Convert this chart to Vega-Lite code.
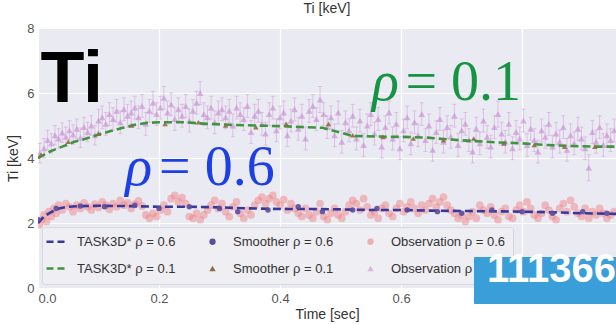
{
  "$schema": "https://vega.github.io/schema/vega-lite/v6.json",
  "width": 578,
  "height": 260,
  "autosize": "none",
  "padding": {"left": 38, "top": 28, "right": 0, "bottom": 37},
  "background": "white",
  "title": {"text": "Ti [keV]", "fontSize": 14, "fontWeight": "normal", "color": "#333", "font": "Liberation Sans", "offset": 6},
  "config": {
    "view": {"fill": "#EAEAF2", "stroke": null},
    "axis": {"domain": false, "ticks": false, "gridColor": "white", "gridWidth": 1.2, "labelColor": "#555", "labelFontSize": 13, "labelFont": "Liberation Sans", "titleColor": "#333", "titleFontSize": 14, "titleFontWeight": "normal", "titleFont": "Liberation Sans", "labelOverlap": false}
  },
  "datasets": {
    "task": [
      {"s":"T1","t":0,"v":4.0},{"s":"T1","t":0.02,"v":4.2},{"s":"T1","t":0.04,"v":4.35},{"s":"T1","t":0.06,"v":4.5},{"s":"T1","t":0.08,"v":4.6},{"s":"T1","t":0.1,"v":4.72},{"s":"T1","t":0.12,"v":4.83},{"s":"T1","t":0.14,"v":4.93},{"s":"T1","t":0.16,"v":5.02},{"s":"T1","t":0.18,"v":5.08},{"s":"T1","t":0.2,"v":5.1},{"s":"T1","t":0.24,"v":5.1},{"s":"T1","t":0.28,"v":5.05},{"s":"T1","t":0.32,"v":5.02},{"s":"T1","t":0.36,"v":5.0},{"s":"T1","t":0.4,"v":4.98},{"s":"T1","t":0.44,"v":4.95},{"s":"T1","t":0.47,"v":4.93},{"s":"T1","t":0.5,"v":4.78},{"s":"T1","t":0.52,"v":4.68},{"s":"T1","t":0.56,"v":4.66},{"s":"T1","t":0.6,"v":4.65},{"s":"T1","t":0.64,"v":4.63},{"s":"T1","t":0.68,"v":4.57},{"s":"T1","t":0.72,"v":4.52},{"s":"T1","t":0.76,"v":4.48},{"s":"T1","t":0.8,"v":4.45},{"s":"T1","t":0.84,"v":4.4},{"s":"T1","t":0.88,"v":4.37},{"s":"T1","t":0.92,"v":4.35},{"s":"T1","t":0.96,"v":4.35},
      {"s":"T6","t":0,"v":2.0},{"s":"T6","t":0.01,"v":2.2},{"s":"T6","t":0.02,"v":2.32},{"s":"T6","t":0.035,"v":2.45},{"s":"T6","t":0.05,"v":2.5},{"s":"T6","t":0.07,"v":2.52},{"s":"T6","t":0.1,"v":2.53},{"s":"T6","t":0.15,"v":2.52},{"s":"T6","t":0.2,"v":2.5},{"s":"T6","t":0.25,"v":2.5},{"s":"T6","t":0.3,"v":2.48},{"s":"T6","t":0.35,"v":2.45},{"s":"T6","t":0.4,"v":2.43},{"s":"T6","t":0.45,"v":2.43},{"s":"T6","t":0.5,"v":2.42},{"s":"T6","t":0.55,"v":2.4},{"s":"T6","t":0.6,"v":2.4},{"s":"T6","t":0.65,"v":2.38},{"s":"T6","t":0.7,"v":2.37},{"s":"T6","t":0.75,"v":2.36},{"s":"T6","t":0.8,"v":2.35},{"s":"T6","t":0.85,"v":2.33},{"s":"T6","t":0.9,"v":2.3},{"s":"T6","t":0.96,"v":2.28}
    ],
    "smooth": [
      {"s":"S6","t":0.0,"v":2.1},{"s":"S6","t":0.03,"v":2.45},{"s":"S6","t":0.07,"v":2.52},{"s":"S6","t":0.11,"v":2.5},{"s":"S6","t":0.16,"v":2.55},{"s":"S6","t":0.2,"v":2.45},{"s":"S6","t":0.25,"v":2.5},{"s":"S6","t":0.3,"v":2.45},{"s":"S6","t":0.33,"v":2.35},{"s":"S6","t":0.38,"v":2.4},{"s":"S6","t":0.43,"v":2.5},{"s":"S6","t":0.47,"v":2.35},{"s":"S6","t":0.52,"v":2.4},{"s":"S6","t":0.56,"v":2.45},{"s":"S6","t":0.61,"v":2.4},{"s":"S6","t":0.66,"v":2.35},{"s":"S6","t":0.7,"v":2.3},{"s":"S6","t":0.75,"v":2.4},{"s":"S6","t":0.8,"v":2.35},{"s":"S6","t":0.85,"v":2.3},{"s":"S6","t":0.9,"v":2.35},{"s":"S6","t":0.94,"v":2.3},
      {"s":"S1","t":0.005,"v":4.1},{"s":"S1","t":0.05,"v":4.5},{"s":"S1","t":0.1,"v":4.75},{"s":"S1","t":0.155,"v":5.0},{"s":"S1","t":0.21,"v":5.05},{"s":"S1","t":0.265,"v":5.1},{"s":"S1","t":0.31,"v":5.0},{"s":"S1","t":0.36,"v":4.95},{"s":"S1","t":0.41,"v":5.05},{"s":"S1","t":0.48,"v":5.05},{"s":"S1","t":0.52,"v":4.7},{"s":"S1","t":0.57,"v":4.65},{"s":"S1","t":0.62,"v":4.6},{"s":"S1","t":0.67,"v":4.55},{"s":"S1","t":0.72,"v":4.6},{"s":"S1","t":0.77,"v":4.45},{"s":"S1","t":0.82,"v":4.4},{"s":"S1","t":0.87,"v":4.35},{"s":"S1","t":0.92,"v":4.35}
    ],
    "obs1": [
      {"s":"O1","t":0.003,"v":4.15,"e":0.3},{"s":"O1","t":0.010,"v":4.3,"e":0.3},{"s":"O1","t":0.016,"v":4.55,"e":0.3},{"s":"O1","t":0.022,"v":4.45,"e":0.3},{"s":"O1","t":0.028,"v":4.7,"e":0.3},{"s":"O1","t":0.034,"v":4.6,"e":0.3},{"s":"O1","t":0.040,"v":4.78,"e":0.3},{"s":"O1","t":0.046,"v":4.65,"e":0.3},{"s":"O1","t":0.052,"v":4.85,"e":0.3},{"s":"O1","t":0.058,"v":4.72,"e":0.3},{"s":"O1","t":0.064,"v":4.9,"e":0.3},{"s":"O1","t":0.070,"v":4.62,"e":0.3},{"s":"O1","t":0.076,"v":4.95,"e":0.3},{"s":"O1","t":0.082,"v":4.8,"e":0.3},{"s":"O1","t":0.088,"v":5.0,"e":0.3},{"s":"O1","t":0.094,"v":4.7,"e":0.3},
      {"s":"O1","t":0.100,"v":5.15,"e":0.35},{"s":"O1","t":0.106,"v":5.25,"e":0.35},{"s":"O1","t":0.112,"v":5.05,"e":0.35},{"s":"O1","t":0.118,"v":5.35,"e":0.35},{"s":"O1","t":0.124,"v":5.2,"e":0.35},{"s":"O1","t":0.130,"v":5.45,"e":0.35},{"s":"O1","t":0.136,"v":5.1,"e":0.35},{"s":"O1","t":0.142,"v":5.5,"e":0.35},{"s":"O1","t":0.148,"v":5.3,"e":0.35},{"s":"O1","t":0.154,"v":5.4,"e":0.35},{"s":"O1","t":0.160,"v":5.55,"e":0.35},{"s":"O1","t":0.166,"v":5.25,"e":0.35},{"s":"O1","t":0.172,"v":5.6,"e":0.35},{"s":"O1","t":0.178,"v":5.05,"e":0.35},{"s":"O1","t":0.184,"v":5.45,"e":0.35},{"s":"O1","t":0.190,"v":5.7,"e":0.35},{"s":"O1","t":0.196,"v":5.35,"e":0.35},{"s":"O1","t":0.202,"v":5.55,"e":0.35},{"s":"O1","t":0.208,"v":5.85,"e":0.35},{"s":"O1","t":0.214,"v":5.4,"e":0.35},{"s":"O1","t":0.220,"v":5.65,"e":0.35},{"s":"O1","t":0.226,"v":5.2,"e":0.35},{"s":"O1","t":0.232,"v":5.5,"e":0.35},{"s":"O1","t":0.238,"v":5.3,"e":0.35},{"s":"O1","t":0.244,"v":5.6,"e":0.35},{"s":"O1","t":0.250,"v":5.15,"e":0.35},{"s":"O1","t":0.256,"v":5.45,"e":0.35},{"s":"O1","t":0.262,"v":5.7,"e":0.35},{"s":"O1","t":0.268,"v":6.0,"e":0.35},{"s":"O1","t":0.274,"v":5.35,"e":0.35},{"s":"O1","t":0.280,"v":5.25,"e":0.35},{"s":"O1","t":0.286,"v":5.55,"e":0.35},{"s":"O1","t":0.292,"v":5.1,"e":0.35},{"s":"O1","t":0.298,"v":5.4,"e":0.35},
      {"s":"O1","t":0.304,"v":5.5,"e":0.35},{"s":"O1","t":0.310,"v":5.25,"e":0.35},{"s":"O1","t":0.316,"v":5.45,"e":0.35},{"s":"O1","t":0.322,"v":5.0,"e":0.35},{"s":"O1","t":0.328,"v":5.55,"e":0.35},{"s":"O1","t":0.334,"v":5.35,"e":0.35},{"s":"O1","t":0.340,"v":5.2,"e":0.35},{"s":"O1","t":0.346,"v":5.6,"e":0.35},{"s":"O1","t":0.352,"v":4.8,"e":0.35},{"s":"O1","t":0.358,"v":5.3,"e":0.35},{"s":"O1","t":0.364,"v":5.45,"e":0.35},{"s":"O1","t":0.370,"v":5.05,"e":0.35},{"s":"O1","t":0.376,"v":4.75,"e":0.35},{"s":"O1","t":0.382,"v":5.35,"e":0.35},{"s":"O1","t":0.388,"v":5.55,"e":0.35},{"s":"O1","t":0.394,"v":4.85,"e":0.35},{"s":"O1","t":0.400,"v":5.25,"e":0.35},{"s":"O1","t":0.406,"v":5.4,"e":0.35},{"s":"O1","t":0.412,"v":4.7,"e":0.35},{"s":"O1","t":0.418,"v":5.15,"e":0.35},{"s":"O1","t":0.424,"v":5.5,"e":0.35},{"s":"O1","t":0.430,"v":4.9,"e":0.35},{"s":"O1","t":0.436,"v":5.3,"e":0.35},{"s":"O1","t":0.442,"v":4.6,"e":0.35},{"s":"O1","t":0.448,"v":5.45,"e":0.35},{"s":"O1","t":0.454,"v":5.6,"e":0.35},{"s":"O1","t":0.460,"v":5.2,"e":0.35},{"s":"O1","t":0.466,"v":5.8,"e":0.4},{"s":"O1","t":0.472,"v":5.35,"e":0.35},{"s":"O1","t":0.478,"v":4.95,"e":0.35},{"s":"O1","t":0.484,"v":5.25,"e":0.35},{"s":"O1","t":0.490,"v":4.7,"e":0.35},{"s":"O1","t":0.496,"v":5.4,"e":0.35},
      {"s":"O1","t":0.502,"v":4.5,"e":0.35},{"s":"O1","t":0.508,"v":5.1,"e":0.35},{"s":"O1","t":0.514,"v":4.85,"e":0.35},{"s":"O1","t":0.520,"v":5.3,"e":0.35},{"s":"O1","t":0.526,"v":4.6,"e":0.35},{"s":"O1","t":0.532,"v":5.15,"e":0.35},{"s":"O1","t":0.538,"v":4.4,"e":0.35},{"s":"O1","t":0.544,"v":5.0,"e":0.35},{"s":"O1","t":0.550,"v":5.35,"e":0.35},{"s":"O1","t":0.556,"v":4.75,"e":0.35},{"s":"O1","t":0.562,"v":5.2,"e":0.35},{"s":"O1","t":0.568,"v":4.35,"e":0.35},{"s":"O1","t":0.574,"v":4.95,"e":0.35},{"s":"O1","t":0.580,"v":5.4,"e":0.35},{"s":"O1","t":0.586,"v":4.6,"e":0.35},{"s":"O1","t":0.592,"v":5.05,"e":0.35},{"s":"O1","t":0.598,"v":4.3,"e":0.35},{"s":"O1","t":0.604,"v":4.85,"e":0.35},{"s":"O1","t":0.610,"v":5.25,"e":0.35},{"s":"O1","t":0.616,"v":4.45,"e":0.35},{"s":"O1","t":0.622,"v":5.1,"e":0.35},{"s":"O1","t":0.628,"v":4.7,"e":0.35},{"s":"O1","t":0.634,"v":5.35,"e":0.35},{"s":"O1","t":0.640,"v":4.55,"e":0.35},{"s":"O1","t":0.646,"v":5.0,"e":0.35},{"s":"O1","t":0.652,"v":4.25,"e":0.35},{"s":"O1","t":0.658,"v":4.8,"e":0.35},{"s":"O1","t":0.664,"v":5.2,"e":0.35},{"s":"O1","t":0.670,"v":4.5,"e":0.35},{"s":"O1","t":0.676,"v":4.95,"e":0.35},{"s":"O1","t":0.682,"v":4.65,"e":0.35},{"s":"O1","t":0.688,"v":5.3,"e":0.35},{"s":"O1","t":0.694,"v":4.4,"e":0.35},
      {"s":"O1","t":0.700,"v":4.85,"e":0.35},{"s":"O1","t":0.706,"v":5.05,"e":0.35},{"s":"O1","t":0.712,"v":4.55,"e":0.35},{"s":"O1","t":0.718,"v":4.2,"e":0.35},{"s":"O1","t":0.724,"v":4.9,"e":0.35},{"s":"O1","t":0.730,"v":4.45,"e":0.35},{"s":"O1","t":0.736,"v":5.15,"e":0.35},{"s":"O1","t":0.742,"v":4.65,"e":0.35},{"s":"O1","t":0.748,"v":4.35,"e":0.35},{"s":"O1","t":0.754,"v":4.95,"e":0.35},{"s":"O1","t":0.760,"v":5.35,"e":0.4},{"s":"O1","t":0.766,"v":4.75,"e":0.35},{"s":"O1","t":0.772,"v":4.5,"e":0.35},{"s":"O1","t":0.778,"v":5.05,"e":0.35},{"s":"O1","t":0.784,"v":4.3,"e":0.35},{"s":"O1","t":0.790,"v":4.8,"e":0.35},{"s":"O1","t":0.796,"v":4.6,"e":0.35},{"s":"O1","t":0.802,"v":5.15,"e":0.35},{"s":"O1","t":0.808,"v":4.4,"e":0.35},{"s":"O1","t":0.814,"v":4.9,"e":0.35},{"s":"O1","t":0.820,"v":4.55,"e":0.35},{"s":"O1","t":0.826,"v":4.2,"e":0.35},{"s":"O1","t":0.832,"v":4.85,"e":0.35},{"s":"O1","t":0.838,"v":4.65,"e":0.35},{"s":"O1","t":0.844,"v":5.05,"e":0.35},{"s":"O1","t":0.850,"v":4.35,"e":0.35},{"s":"O1","t":0.856,"v":4.75,"e":0.35},{"s":"O1","t":0.862,"v":4.5,"e":0.35},{"s":"O1","t":0.868,"v":4.95,"e":0.35},{"s":"O1","t":0.874,"v":4.25,"e":0.35},{"s":"O1","t":0.880,"v":4.7,"e":0.35},{"s":"O1","t":0.886,"v":4.45,"e":0.35},{"s":"O1","t":0.892,"v":4.9,"e":0.35},{"s":"O1","t":0.898,"v":4.6,"e":0.35},{"s":"O1","t":0.904,"v":4.3,"e":0.35},{"s":"O1","t":0.910,"v":3.7,"e":0.4},{"s":"O1","t":0.916,"v":4.8,"e":0.35},{"s":"O1","t":0.922,"v":4.5,"e":0.35},{"s":"O1","t":0.928,"v":4.95,"e":0.35},{"s":"O1","t":0.934,"v":4.4,"e":0.35},{"s":"O1","t":0.940,"v":4.7,"e":0.35},{"s":"O1","t":0.946,"v":4.55,"e":0.35},{"s":"O1","t":0.952,"v":4.85,"e":0.35}
    ],
    "obs6": [
      {"s":"O6","t":0.002,"v":1.95},{"s":"O6","t":0.006,"v":2.1},{"s":"O6","t":0.010,"v":2.25},{"s":"O6","t":0.014,"v":2.05},{"s":"O6","t":0.018,"v":2.35},{"s":"O6","t":0.022,"v":2.2},{"s":"O6","t":0.026,"v":2.45},{"s":"O6","t":0.030,"v":2.3},{"s":"O6","t":0.034,"v":2.55},{"s":"O6","t":0.040,"v":2.4},{"s":"O6","t":0.046,"v":2.6},{"s":"O6","t":0.052,"v":2.5},{"s":"O6","t":0.058,"v":2.35},{"s":"O6","t":0.064,"v":2.55},{"s":"O6","t":0.070,"v":2.45},{"s":"O6","t":0.076,"v":2.62},{"s":"O6","t":0.082,"v":2.5},{"s":"O6","t":0.088,"v":2.4},{"s":"O6","t":0.094,"v":2.58},{"s":"O6","t":0.100,"v":2.48},{"s":"O6","t":0.106,"v":2.65},{"s":"O6","t":0.112,"v":2.55},{"s":"O6","t":0.118,"v":2.42},{"s":"O6","t":0.124,"v":2.6},{"s":"O6","t":0.130,"v":2.5},{"s":"O6","t":0.136,"v":2.7},{"s":"O6","t":0.142,"v":2.55},{"s":"O6","t":0.148,"v":2.62},{"s":"O6","t":0.154,"v":2.45},{"s":"O6","t":0.160,"v":2.58},{"s":"O6","t":0.166,"v":2.68},{"s":"O6","t":0.172,"v":2.52},{"s":"O6","t":0.178,"v":2.25},{"s":"O6","t":0.184,"v":2.15},{"s":"O6","t":0.190,"v":2.3},{"s":"O6","t":0.196,"v":2.2},
      {"s":"O6","t":0.202,"v":2.4},{"s":"O6","t":0.208,"v":2.55},{"s":"O6","t":0.214,"v":2.35},{"s":"O6","t":0.220,"v":2.75},{"s":"O6","t":0.226,"v":2.85},{"s":"O6","t":0.232,"v":2.65},{"s":"O6","t":0.238,"v":2.78},{"s":"O6","t":0.244,"v":2.6},{"s":"O6","t":0.250,"v":2.2},{"s":"O6","t":0.256,"v":2.15},{"s":"O6","t":0.262,"v":2.3},{"s":"O6","t":0.268,"v":2.1},{"s":"O6","t":0.274,"v":2.25},{"s":"O6","t":0.280,"v":2.4},{"s":"O6","t":0.286,"v":2.55},{"s":"O6","t":0.292,"v":2.7},{"s":"O6","t":0.298,"v":2.45},{"s":"O6","t":0.304,"v":2.6},{"s":"O6","t":0.310,"v":2.35},{"s":"O6","t":0.316,"v":2.2},{"s":"O6","t":0.322,"v":2.5},{"s":"O6","t":0.328,"v":2.65},{"s":"O6","t":0.334,"v":2.3},{"s":"O6","t":0.340,"v":2.15},{"s":"O6","t":0.346,"v":2.4},{"s":"O6","t":0.352,"v":2.25},{"s":"O6","t":0.358,"v":2.55},{"s":"O6","t":0.364,"v":2.7},{"s":"O6","t":0.370,"v":2.8},{"s":"O6","t":0.376,"v":2.6},{"s":"O6","t":0.382,"v":2.75},{"s":"O6","t":0.388,"v":2.85},{"s":"O6","t":0.394,"v":2.65},{"s":"O6","t":0.400,"v":2.55},
      {"s":"O6","t":0.406,"v":2.72},{"s":"O6","t":0.412,"v":2.4},{"s":"O6","t":0.418,"v":2.6},{"s":"O6","t":0.424,"v":2.45},{"s":"O6","t":0.430,"v":2.3},{"s":"O6","t":0.436,"v":2.2},{"s":"O6","t":0.442,"v":2.45},{"s":"O6","t":0.448,"v":2.25},{"s":"O6","t":0.454,"v":2.15},{"s":"O6","t":0.460,"v":2.35},{"s":"O6","t":0.466,"v":2.6},{"s":"O6","t":0.472,"v":2.2},{"s":"O6","t":0.478,"v":2.1},{"s":"O6","t":0.484,"v":2.3},{"s":"O6","t":0.490,"v":2.45},{"s":"O6","t":0.496,"v":2.25},{"s":"O6","t":0.502,"v":2.15},{"s":"O6","t":0.508,"v":2.35},{"s":"O6","t":0.514,"v":2.55},{"s":"O6","t":0.520,"v":2.7},{"s":"O6","t":0.526,"v":2.6},{"s":"O6","t":0.532,"v":2.4},{"s":"O6","t":0.538,"v":2.75},{"s":"O6","t":0.544,"v":2.5},{"s":"O6","t":0.550,"v":2.25},{"s":"O6","t":0.556,"v":2.35},{"s":"O6","t":0.562,"v":2.15},{"s":"O6","t":0.568,"v":2.45},{"s":"O6","t":0.574,"v":2.55},{"s":"O6","t":0.580,"v":2.3},{"s":"O6","t":0.586,"v":2.2},{"s":"O6","t":0.592,"v":2.45},{"s":"O6","t":0.598,"v":2.6},
      {"s":"O6","t":0.604,"v":2.35},{"s":"O6","t":0.610,"v":2.5},{"s":"O6","t":0.616,"v":2.65},{"s":"O6","t":0.622,"v":2.45},{"s":"O6","t":0.628,"v":2.3},{"s":"O6","t":0.634,"v":2.55},{"s":"O6","t":0.640,"v":2.4},{"s":"O6","t":0.646,"v":2.6},{"s":"O6","t":0.652,"v":2.75},{"s":"O6","t":0.658,"v":2.5},{"s":"O6","t":0.664,"v":2.65},{"s":"O6","t":0.670,"v":2.8},{"s":"O6","t":0.676,"v":2.55},{"s":"O6","t":0.682,"v":2.4},{"s":"O6","t":0.688,"v":2.3},{"s":"O6","t":0.694,"v":2.15},{"s":"O6","t":0.700,"v":2.25},{"s":"O6","t":0.706,"v":2.05},{"s":"O6","t":0.712,"v":2.2},{"s":"O6","t":0.718,"v":2.35},{"s":"O6","t":0.724,"v":2.15},{"s":"O6","t":0.730,"v":2.55},{"s":"O6","t":0.736,"v":2.4},{"s":"O6","t":0.742,"v":2.3},{"s":"O6","t":0.748,"v":2.5},{"s":"O6","t":0.754,"v":2.25},{"s":"O6","t":0.760,"v":2.1},{"s":"O6","t":0.766,"v":2.35},{"s":"O6","t":0.772,"v":2.45},{"s":"O6","t":0.778,"v":2.2},{"s":"O6","t":0.784,"v":2.15},{"s":"O6","t":0.790,"v":2.4},{"s":"O6","t":0.796,"v":2.55},
      {"s":"O6","t":0.802,"v":2.35},{"s":"O6","t":0.808,"v":2.65},{"s":"O6","t":0.814,"v":2.45},{"s":"O6","t":0.820,"v":2.25},{"s":"O6","t":0.826,"v":2.15},{"s":"O6","t":0.832,"v":2.3},{"s":"O6","t":0.838,"v":2.55},{"s":"O6","t":0.844,"v":2.4},{"s":"O6","t":0.850,"v":2.2},{"s":"O6","t":0.856,"v":2.1},{"s":"O6","t":0.862,"v":2.45},{"s":"O6","t":0.868,"v":2.6},{"s":"O6","t":0.874,"v":2.35},{"s":"O6","t":0.880,"v":2.7},{"s":"O6","t":0.886,"v":2.5},{"s":"O6","t":0.892,"v":2.3},{"s":"O6","t":0.898,"v":2.2},{"s":"O6","t":0.904,"v":2.45},{"s":"O6","t":0.910,"v":2.15},{"s":"O6","t":0.916,"v":2.35},{"s":"O6","t":0.922,"v":2.25},{"s":"O6","t":0.928,"v":2.45},{"s":"O6","t":0.934,"v":2.3},{"s":"O6","t":0.940,"v":2.15},{"s":"O6","t":0.946,"v":2.25},{"s":"O6","t":0.952,"v":2.35}
    ]
  },
  "layer": [
    {
      "encoding": {
        "x": {"field": "t", "type": "quantitative", "scale": {"domain": [0, 0.955], "nice": false, "zero": false}, "axis": {"values": [0, 0.2, 0.4, 0.6, 0.8], "format": ".1f", "labelPadding": 4, "titlePadding": 2, "title": "Time [sec]"}},
        "y": {"field": "v", "type": "quantitative", "scale": {"domain": [0, 8], "nice": false, "zero": false}, "axis": {"values": [0, 1, 2, 3, 4, 5, 6, 7, 8], "labelPadding": 4, "titlePadding": 6, "title": "Ti [keV]"}}
      },
      "layer": [
        {
          "data": {"name": "obs1"},
          "mark": {"type": "errorbar", "clip": true, "rule": {"color": "#d7aede", "opacity": 0.7, "strokeWidth": 1}, "ticks": {"color": "#d7aede", "opacity": 0.7, "size": 4}},
          "encoding": {"yError": {"field": "e"}}
        },
        {
          "data": {"name": "obs1"},
          "mark": {"type": "point", "shape": "triangle-up", "filled": true, "size": 45, "opacity": 0.6, "clip": true},
          "encoding": {"color": {"field": "s", "type": "nominal"}}
        },
        {
          "data": {"name": "obs6"},
          "mark": {"type": "point", "shape": "circle", "filled": true, "size": 60, "opacity": 0.45, "clip": true},
          "encoding": {"color": {"field": "s", "type": "nominal"}}
        },
        {
          "data": {"name": "task"},
          "mark": {"type": "line", "strokeDash": [8, 4], "strokeWidth": 2.6, "clip": true},
          "encoding": {
            "color": {
              "field": "s", "type": "nominal",
              "scale": {"domain": ["T6", "T1", "S6", "S1", "O6", "O1"], "range": ["#38389c", "#3d953d", "#5b4d9e", "#8a6d45", "#f07c7c", "#c68ad1"]},
              "legend": {
                "title": null, "orient": "none", "legendX": 4, "legendY": 199, "columns": 3, "zindex": 1,
                "symbolSize": 400, "symbolStrokeWidth": 2.5, "labelFontSize": 13, "labelFont": "Liberation Sans", "labelColor": "#333", "labelOffset": 14, "labelLimit": 300,
                "columnPadding": 30, "rowPadding": 13, "padding": 8, "fillColor": "#EEEEF3", "strokeColor": "#D6D6DE", "cornerRadius": 3,
                "labelExpr": "datum.value=='T6'?'TASK3D* ρ = 0.6':datum.value=='T1'?'TASK3D* ρ = 0.1':datum.value=='S6'?'Smoother ρ = 0.6':datum.value=='S1'?'Smoother ρ = 0.1':datum.value=='O6'?'Observation ρ = 0.6':'Observation ρ = 0.1'",
                "encode": {"symbols": {"update": {
                  "shape": {"signal": "(datum.value=='T6'||datum.value=='T1')?'stroke':(datum.value=='S1'||datum.value=='O1')?'triangle-up':'circle'"},
                  "size": {"signal": "(datum.value=='T6'||datum.value=='T1')?400:40"},
                  "strokeDash": {"signal": "(datum.value=='T6'||datum.value=='T1')?[7,4]:[1,0]"},
                  "strokeWidth": {"signal": "(datum.value=='T6'||datum.value=='T1')?2.5:0"},
                  "stroke": {"signal": "scale('color', datum.value)"},
                  "fill": {"signal": "scale('color', datum.value)"},
                  "opacity": {"signal": "(datum.value=='O6'||datum.value=='O1')?0.55:1"}
                }}}
              }
            },
            "detail": {"field": "s"}
          }
        },
        {
          "data": {"name": "smooth"},
          "mark": {"type": "point", "filled": true, "size": 30, "opacity": 0.9, "clip": true},
          "encoding": {
            "color": {"field": "s", "type": "nominal"},
            "shape": {"field": "s", "type": "nominal", "scale": {"domain": ["S6", "S1"], "range": ["circle", "triangle-up"]}, "legend": null}
          }
        }
      ]
    },
    {
      "data": {"values": [{}]},
      "mark": {"type": "text", "text": "Ti", "font": "Liberation Sans", "fontWeight": "bold", "fontSize": 72, "align": "left", "baseline": "alphabetic", "color": "black"},
      "encoding": {"x": {"datum": 0.004, "type": "quantitative"}, "y": {"datum": 5.72, "type": "quantitative"}}
    },
    {
      "data": {"values": [{}]},
      "mark": {"type": "text", "text": "ρ", "font": "Liberation Serif", "fontStyle": "italic", "fontSize": 56, "align": "left", "baseline": "alphabetic", "color": "#169443"},
      "encoding": {"x": {"datum": 0.552, "type": "quantitative"}, "y": {"datum": 5.78, "type": "quantitative"}}
    },
    {
      "data": {"values": [{}]},
      "mark": {"type": "text", "text": "= 0.1", "font": "Liberation Serif", "fontSize": 56, "align": "left", "baseline": "alphabetic", "color": "#169443"},
      "encoding": {"x": {"datum": 0.607, "type": "quantitative"}, "y": {"datum": 5.78, "type": "quantitative"}}
    },
    {
      "data": {"values": [{}]},
      "mark": {"type": "text", "text": "ρ", "font": "Liberation Serif", "fontStyle": "italic", "fontSize": 56, "align": "left", "baseline": "alphabetic", "color": "#1d3fe6"},
      "encoding": {"x": {"datum": 0.144, "type": "quantitative"}, "y": {"datum": 3.17, "type": "quantitative"}}
    },
    {
      "data": {"values": [{}]},
      "mark": {"type": "text", "text": "= 0.6", "font": "Liberation Serif", "fontSize": 56, "align": "left", "baseline": "alphabetic", "color": "#1d3fe6"},
      "encoding": {"x": {"datum": 0.2, "type": "quantitative"}, "y": {"datum": 3.17, "type": "quantitative"}}
    },
    {
      "data": {"values": [{}]},
      "mark": {"type": "point", "opacity": 0},
      "encoding": {
        "x": {"datum": 0.5, "type": "quantitative"},
        "y": {"datum": 4, "type": "quantitative"},
        "strokeWidth": {"datum": "111366", "type": "nominal", "scale": {"domain": ["111366"], "range": [1]},
          "legend": {"title": null, "orient": "none", "legendX": 436, "legendY": 229, "zindex": 2, "fillColor": "#3A9FD9", "strokeColor": "#3A9FD9", "padding": 13,
            "symbolSize": 1, "symbolOpacity": 0, "labelOffset": -3, "labelFontSize": 40, "labelFont": "Liberation Sans", "labelFontWeight": "bold", "labelColor": "white", "labelLimit": 400}}
      }
    }
  ]
}
